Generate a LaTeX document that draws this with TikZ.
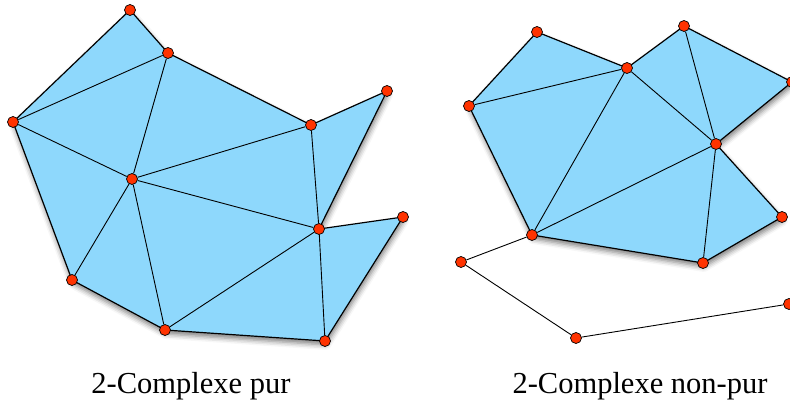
\documentclass[tikz,border=0pt]{standalone}
\usepackage{fontspec}
\setmainfont{Liberation Serif}
\usetikzlibrary{backgrounds,shadows.blur}
\definecolor{cellblue}{HTML}{8ED8FC}
\definecolor{vertexred}{HTML}{FF3300}

\begin{document}
\begin{tikzpicture}[x=1pt, y=-1pt, line join=round,
        vertex/.style={circle, draw=black, fill=vertexred, line width=0.7pt, inner sep=0pt, minimum size=11pt},
        cell/.style={fill=cellblue, draw=black, line width=1.2pt,
            blur shadow={shadow xshift=1pt, shadow yshift=-4pt, shadow blur radius=5pt, shadow opacity=50}},
        edge/.style={draw=black, line width=0.9pt},
        caption/.style={font=\rmfamily\fontsize{30.5}{36}\selectfont, anchor=base, inner sep=0pt}]
        \useasboundingbox (0,0) rectangle (790,406);

        % pure complex
        \node[vertex] (l1)  at (130,10)  {};
        \node[vertex] (l2)  at (168,53)  {};
        \node[vertex] (l3)  at (13,122)  {};
        \node[vertex] (l4)  at (132,179) {};
        \node[vertex] (l5)  at (311,125) {};
        \node[vertex] (l6)  at (387,91)  {};
        \node[vertex] (l7)  at (319,229) {};
        \node[vertex] (l8)  at (403,217) {};
        \node[vertex] (l9)  at (72,280)  {};
        \node[vertex] (l10) at (165,330) {};
        \node[vertex] (l11) at (325,341) {};

        % non-pure complex
        \node[vertex] (r1) at (537,32)  {};
        \node[vertex] (r2) at (627,68)  {};
        \node[vertex] (r3) at (469,106) {};
        \node[vertex] (r4) at (684,26)  {};
        \node[vertex] (r5) at (792,82)  {};
        \node[vertex] (r6) at (716,144) {};
        \node[vertex] (r7) at (532,235) {};
        \node[vertex] (r8) at (782,217) {};
        \node[vertex] (r9) at (703,263) {};
        \node[vertex] (q1) at (461,262) {};
        \node[vertex] (q2) at (576,338) {};
        \node[vertex] (q3) at (789,304) {};

        \begin{scope}[on background layer]
            \path[cell] (l1.center) -- (l2.center) -- (l5.center) -- (l6.center) -- (l7.center)
                -- (l8.center) -- (l11.center) -- (l10.center) -- (l9.center) -- (l3.center) -- cycle;
            \draw[edge] (l2) -- (l3) (l2) -- (l4) (l3) -- (l4) (l4) -- (l5) (l5) -- (l7)
                (l4) -- (l7) (l4) -- (l9) (l4) -- (l10) (l10) -- (l7) (l7) -- (l11);

            \path[cell] (r1.center) -- (r2.center) -- (r4.center) -- (r5.center) -- (r6.center)
                -- (r8.center) -- (r9.center) -- (r7.center) -- (r3.center) -- cycle;
            \draw[edge] (r3) -- (r2) (r2) -- (r7) (r2) -- (r6) (r6) -- (r7) (r6) -- (r9) (r4) -- (r6);
            \draw[edge] (r7) -- (q1) -- (q2) -- (q3);
        \end{scope}

        \node[caption] (purlabel)    at (191,393) {2-Complexe pur};
        \node[caption] (nonpurlabel) at (640,393) {2-Complexe non-pur};
    \end{tikzpicture}
\end{document}
